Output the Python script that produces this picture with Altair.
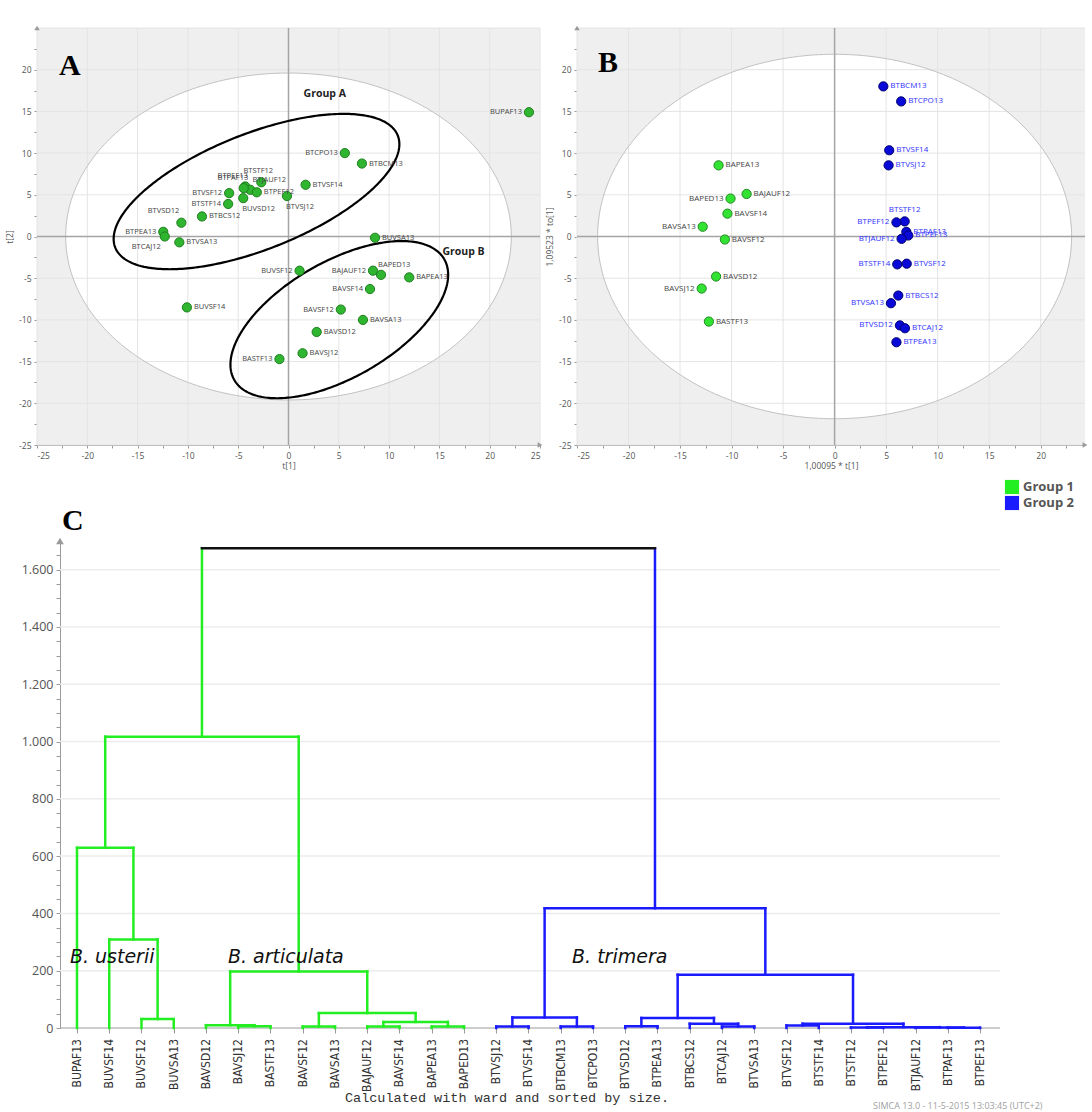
import altair as alt
import numpy as np
import pandas as pd

# ---------------- data ----------------
# Panel A: PCA scores t[1], t[2]
A_NAMES = ["BUPAF13", "BTCPO13", "BTBCM13", "BTVSF14", "BTJAUF12", "BTSTF12", "BTPAF13", "BTPEF13",
           "BTPEF12", "BUVSD12", "BTVSJ12", "BTVSF12", "BTSTF14", "BTBCS12", "BTVSD12", "BTPEA13",
           "BTCAJ12", "BTVSA13", "BUVSA13", "BUVSF12", "BAJAUF12", "BAPED13", "BAPEA13", "BAVSF14",
           "BUVSF14", "BAVSF12", "BAVSA13", "BAVSD12", "BAVSJ12", "BASTF13"]
A_T1 = [23.9, 5.6, 7.3, 1.7, -2.7, -4.3, -3.8, -4.45, -3.15, -4.5, -0.15, -5.9, -6.0, -8.6, -10.65,
        -12.45, -12.3, -10.85, 8.6, 1.1, 8.4, 9.2, 12.0, 8.1, -10.1, 5.2, 7.4, 2.8, 1.4, -0.9]
A_T2 = [14.9, 10.0, 8.75, 6.2, 6.5, 6.0, 5.6, 5.8, 5.3, 4.6, 4.85, 5.2, 3.9, 2.4, 1.65, 0.56, 0.0,
        -0.7, -0.15, -4.1, -4.1, -4.6, -4.9, -6.3, -8.5, -8.76, -10.0, -11.45, -14.0, -14.7]

# Panel B: OPLS-DA scores
B_NAMES = ["BAPEA13", "BAPED13", "BAJAUF12", "BAVSF14", "BAVSA13", "BAVSF12", "BAVSD12", "BAVSJ12",
           "BASTF13", "BTBCM13", "BTCPO13", "BTVSF14", "BTVSJ12", "BTSTF12", "BTPEF12", "BTPAF13",
           "BTPEF13", "BTJAUF12", "BTSTF14", "BTVSF12", "BTBCS12", "BTVSA13", "BTVSD12", "BTCAJ12",
           "BTPEA13"]
B_T1 = [-11.26, -10.1, -8.54, -10.4, -12.8, -10.65, -11.5, -12.9, -12.2, 4.73, 6.46, 5.3, 5.24,
        6.8, 6.0, 6.96, 7.15, 6.5, 6.08, 7.0, 6.18, 5.47, 6.34, 6.83, 6.0]
B_T2 = [8.53, 4.55, 5.1, 2.74, 1.17, -0.36, -4.8, -6.24, -10.2, 18.0, 16.2, 10.34, 8.53, 1.81, 1.69,
        0.56, 0.12, -0.28, -3.34, -3.26, -7.08, -8.0, -10.66, -11.0, -12.68]
B_GROUP = ["Group 1", "Group 1", "Group 1", "Group 1", "Group 1", "Group 1", "Group 1", "Group 1",
           "Group 1", "Group 2", "Group 2", "Group 2", "Group 2", "Group 2", "Group 2", "Group 2",
           "Group 2", "Group 2", "Group 2", "Group 2", "Group 2", "Group 2", "Group 2", "Group 2",
           "Group 2"]

# Panel C: dendrogram (Ward), leaves in plotted order
LEAVES = ["BUPAF13", "BUVSF14", "BUVSF12", "BUVSA13", "BAVSD12", "BAVSJ12", "BASTF13", "BAVSF12",
          "BAVSA13", "BAJAUF12", "BAVSF14", "BAPEA13", "BAPED13", "BTVSJ12", "BTVSF14", "BTBCM13",
          "BTCPO13", "BTVSD12", "BTPEA13", "BTBCS12", "BTCAJ12", "BTVSA13", "BTVSF12", "BTSTF14",
          "BTSTF12", "BTPEF12", "BTJAUF12", "BTPAF13", "BTPEF13"]
# (id, left child, right child, merge height, group)
MERGES = [
    ("m1", 2, 3, 31, "Group 1"),
    ("m2", 1, "m1", 309, "Group 1"),
    ("m3", 0, "m2", 629, "Group 1"),
    ("m4", 5, 6, 6, "Group 1"),
    ("m5", 4, "m4", 10, "Group 1"),
    ("m6", 7, 8, 5, "Group 1"),
    ("m7", 9, 10, 5, "Group 1"),
    ("m8", 11, 12, 5, "Group 1"),
    ("m9", "m7", "m8", 21, "Group 1"),
    ("m10", "m6", "m9", 52, "Group 1"),
    ("m11", "m5", "m10", 197, "Group 1"),
    ("m12", "m3", "m11", 1017, "Group 1"),
    ("m13", 13, 14, 5, "Group 2"),
    ("m14", 15, 16, 5, "Group 2"),
    ("m15", "m13", "m14", 37, "Group 2"),
    ("m16", 17, 18, 6, "Group 2"),
    ("m17", 20, 21, 5, "Group 2"),
    ("m18", 19, "m17", 15, "Group 2"),
    ("m19", "m16", "m18", 35, "Group 2"),
    ("m20", 22, 23, 9, "Group 2"),
    ("m21", 24, 25, 2, "Group 2"),
    ("m22", 27, 28, 1, "Group 2"),
    ("m23", 26, "m22", 2, "Group 2"),
    ("m24", "m21", "m23", 3, "Group 2"),
    ("m25", "m20", "m24", 15, "Group 2"),
    ("m26", "m19", "m25", 186, "Group 2"),
    ("m27", "m15", "m26", 418, "Group 2"),
    ("m28", "m12", "m27", 1675, "root"),
]
SPECIES = ["B. usterii", "B. articulata", "B. trimera"]
SPECIES_X = [-0.22, 4.68, 15.35]
SPECIES_Y = [248, 248, 248]
LEGEND_NAMES = ["Group 1", "Group 2"]

# -------------- style / annotation geometry ---------------
FONT = "Open Sans"
NARROW = "Liberation Sans Narrow, DejaVu Sans Condensed, Arial Narrow, Liberation Sans"
GREEN_C, BLUE_C = "#22ee22", "#1a1aff"

A_SIDE = {"BUPAF13": "left", "BTCPO13": "left", "BTBCM13": "right", "BTVSF14": "right",
          "BTJAUF12": "on", "BTSTF12": "aboveright", "BTPAF13": "upleft", "BTPEF13": "upleft2",
          "BTPEF12": "right", "BUVSD12": "belowright", "BTVSJ12": "belowright", "BTVSF12": "left",
          "BTSTF14": "left", "BTBCS12": "right", "BTVSD12": "upleft", "BTPEA13": "left",
          "BTCAJ12": "belowleft", "BTVSA13": "right", "BUVSA13": "right", "BUVSF12": "left",
          "BAJAUF12": "left", "BAPED13": "upright", "BAPEA13": "right", "BAVSF14": "left",
          "BUVSF14": "right", "BAVSF12": "left", "BAVSA13": "right", "BAVSD12": "right",
          "BAVSJ12": "right", "BASTF13": "left"}
B_SIDE = {"BAPEA13": "right", "BAPED13": "left", "BAJAUF12": "right", "BAVSF14": "right",
          "BAVSA13": "left", "BAVSF12": "right", "BAVSD12": "right", "BAVSJ12": "left",
          "BASTF13": "right", "BTBCM13": "right", "BTCPO13": "right", "BTVSF14": "right",
          "BTVSJ12": "right", "BTSTF12": "above", "BTPEF12": "left", "BTPAF13": "right",
          "BTPEF13": "right", "BTJAUF12": "left", "BTSTF14": "left", "BTVSF12": "right",
          "BTBCS12": "right", "BTVSA13": "left", "BTVSD12": "left", "BTCAJ12": "right",
          "BTPEA13": "right"}
SIDE_STYLE = {"right": ("left", 7, 0), "left": ("right", -7, 0), "above": ("center", 0, -11),
              "aboveright": ("center", 13, -15), "on": ("center", 8, -2),
              "upleft": ("right", -2, -12), "upleft2": ("right", 4, -12),
              "upright": ("left", -3, -10),
              "belowright": ("left", -1, 11), "belowleft": ("right", -4, 10)}

W_A, H_A = 503, 417
W_B, H_B = 508, 417
W_C, H_C = 963, 487
C_AX_OFF = 23          # C's y axis sits 23 px inside the panel's left edge
A_XDOM, A_YDOM = [-25, 25], [-25, 25]
B_XDOM, B_YDOM = [-25, 24.3], [-25, 25]
C_XDOM, C_YDOM = [-1.24, 28.62], [0, 1700]
LEFT, TOP = 37, 28     # position of panel A's plot area in the page
ROW1_BOTTOM = 30       # layout extent below A/B plot areas
C_TOP = 62             # layout extent above C's plot area
ROW_GAP = 96 - ROW1_BOTTOM - C_TOP + 0

one = pd.DataFrame({"a": [0]})


def anchor(x, y):
    # invisible 1px rule that fixes the layout extent of a panel
    return alt.Chart(one).mark_rule(strokeOpacity=0).encode(
        x=alt.value(x), x2=alt.value(x + 1), y=alt.value(y), y2=alt.value(y + 1))


def ellipse_fill(a, b, n=300):
    t = np.linspace(-a, a, n)
    yy = b * np.sqrt(np.clip(1 - (t / a) ** 2, 0, None))
    return pd.DataFrame({"x": t, "y": yy, "y2": -yy})


def ellipse_line(cx, cy, ux, uy, vx, vy, n=300):
    t = np.linspace(0, 2 * np.pi, n)
    return pd.DataFrame({"x": cx + ux * np.cos(t) + vx * np.sin(t),
                         "y": cy + uy * np.cos(t) + vy * np.sin(t),
                         "o": np.arange(n)})


def scatter_panel(names, t1, t2, sides, fills, strokes, labcols, w, h, xdom, ydom,
                  hot_a, hot_b, xtitle, ytitle, letter, letter_xy, extra, label_size, anchors):
    xscale = alt.Scale(domain=xdom, nice=False, zero=False)
    yscale = alt.Scale(domain=ydom, nice=False, zero=False)
    ticks_x = [float(v) for v in np.arange(-25, xdom[1] + 0.01, 2.5)]
    ticks_y = [float(v) for v in np.arange(-25, ydom[1] - 2.4, 2.5)]
    lab = "datum.value % 5 == 0 ? replace(datum.label, '\u2212', '-') : ''"
    common = dict(grid=False, tickSize=3, tickColor="#9a9a9a", domainColor="#9a9a9a",
                  labelColor="#555555", labelFont=FONT, labelFontSize=8.5, titleFont=FONT,
                  titleFontSize=8.5, titleFontWeight="normal", titleColor="#555555",
                  labelExpr=lab)
    xaxis = alt.Axis(values=ticks_x, title=xtitle, titlePadding=2, labelPadding=3, **common)
    yaxis = alt.Axis(values=ticks_y, title=ytitle, titlePadding=4, labelPadding=3, **common)

    def X(f):
        return alt.X(f, type="quantitative", scale=xscale, axis=xaxis)

    def Y(f):
        return alt.Y(f, type="quantitative", scale=yscale, axis=yaxis)

    layers = [anchor(ax, ay) for ax, ay in anchors]
    layers.append(alt.Chart(one).mark_rect(fill="#efefef").encode(
        x=alt.value(0), x2=alt.value(w), y=alt.value(0), y2=alt.value(h)))
    layers.append(alt.Chart(ellipse_fill(hot_a, hot_b)).mark_area(fill="white").encode(
        x=X("x"), y=Y("y"), y2="y2:Q"))
    gx = pd.DataFrame({"v": [float(v) for v in np.arange(-25, xdom[1] + 0.01, 5)]})
    gy = pd.DataFrame({"v": [float(v) for v in np.arange(-25, ydom[1] + 0.01, 5)]})
    layers.append(alt.Chart(gx).mark_rule(color="#e4e4e4", strokeWidth=1).encode(x=X("v")))
    layers.append(alt.Chart(gy).mark_rule(color="#e4e4e4", strokeWidth=1).encode(y=Y("v")))
    layers.append(alt.Chart(ellipse_line(0, 0, hot_a, 0, 0, hot_b)).mark_line(
        stroke="#c2c2c2", strokeWidth=1).encode(x=X("x"), y=Y("y"), order="o:Q"))
    zero = pd.DataFrame({"v": [0.0]})
    layers.append(alt.Chart(zero).mark_rule(color="#a5a5a5", strokeWidth=1.5).encode(x=X("v")))
    layers.append(alt.Chart(zero).mark_rule(color="#a5a5a5", strokeWidth=1.5).encode(y=Y("v")))
    # axis arrows
    layers.append(alt.Chart(pd.DataFrame({"x": [float(xdom[0])], "y": [float(ydom[1])]})).mark_point(
        shape="triangle-up", filled=True, color="#9a9a9a", size=30, opacity=1).encode(x=X("x"), y=Y("y")))
    layers.append(alt.Chart(pd.DataFrame({"x": [float(xdom[1])], "y": [float(ydom[0])]})).mark_point(
        shape="triangle-right", filled=True, color="#9a9a9a", size=30, opacity=1).encode(x=X("x"), y=Y("y")))
    layers += [l(X, Y) for l in extra]

    df = pd.DataFrame({"name": names, "t1": t1, "t2": t2,
                       "side": [sides[n] for n in names],
                       "fill": fills, "stroke": strokes, "lc": labcols})
    layers.append(alt.Chart(df).mark_circle(size=85, opacity=1, strokeWidth=1).encode(
        x=X("t1"), y=Y("t2"), fill=alt.Fill("fill:N", scale=None),
        stroke=alt.Stroke("stroke:N", scale=None)))
    for side, (align, dx, dy) in SIDE_STYLE.items():
        sub = df[df["side"] == side]
        if len(sub) == 0:
            continue
        layers.append(alt.Chart(sub).mark_text(
            align=align, dx=dx, dy=dy, baseline="middle", font=FONT, fontSize=label_size).encode(
            x=X("t1"), y=Y("t2"), text="name:N", color=alt.Color("lc:N", scale=None)))
    layers.append(alt.Chart(one).mark_text(
        text=letter, font="Liberation Serif", fontWeight="bold", fontSize=30, align="left",
        baseline="alphabetic", color="black").encode(x=alt.value(letter_xy[0]), y=alt.value(letter_xy[1])))
    return alt.layer(*layers).properties(width=w, height=h)


# ---- Panel A extras: group ellipses + labels ----
def a_extra_ellipses(X, Y):
    ga = ellipse_line(-3.18, 5.39, 14.04, 6.72, 2.13, -6.45)
    gb = ellipse_line(5.05, -9.97, 10.43, 7.25, 2.88, -6.02)
    ga["g"] = "A"
    gb["g"] = "B"
    return alt.Chart(pd.concat([ga, gb])).mark_line(stroke="black", strokeWidth=2.2).encode(
        x=X("x"), y=Y("y"), detail="g:N", order="o:Q")


def a_extra_text(X, Y):
    d = pd.DataFrame({"x": [3.6, 17.4], "y": [17.1, -1.8], "t": ["Group A", "Group B"]})
    return alt.Chart(d).mark_text(font=FONT, fontWeight="bold", fontSize=10.5, color="#222222",
                                  align="center", baseline="middle").encode(
        x=X("x"), y=Y("y"), text="t:N")


chartA = scatter_panel(A_NAMES, A_T1, A_T2, A_SIDE,
                       ["#2fb52f"] * len(A_NAMES), ["#1f7f1f"] * len(A_NAMES),
                       ["#444444"] * len(A_NAMES),
                       W_A, H_A, A_XDOM, A_YDOM, 22.15, 19.6, "t[1]", "t[2]", "A", (22, 47),
                       [a_extra_ellipses, a_extra_text], 7.5,
                       anchors=[(-LEFT, -TOP), (0, H_A + ROW1_BOTTOM - 1)])

b_fill = ["#33e333" if g == "Group 1" else "#0a0ad8" for g in B_GROUP]
b_stroke = ["#1f8a1f" if g == "Group 1" else "#000070" for g in B_GROUP]
b_lab = ["#444444" if g == "Group 1" else "#3030ff" for g in B_GROUP]
chartB = scatter_panel(B_NAMES, B_T1, B_T2, B_SIDE, b_fill, b_stroke, b_lab,
                       W_B, H_B, B_XDOM, B_YDOM, 23.0, 21.85, "1,00095 * t[1]", "1,09523 * to[1]",
                       "B", (21, 44), [], 8, anchors=[])

# ---------------- Panel C: dendrogram ----------------
pos = {i: float(i) for i in range(len(LEAVES))}
hgt = {i: 0.0 for i in range(len(LEAVES))}
grp = {}
segs = []
for mid, l, r, h, g in MERGES:
    for c in (l, r):
        segs.append(dict(x=pos[c], x2=pos[c], y=hgt[c], y2=float(h), g=grp.get(c, g)))
    segs.append(dict(x=pos[l], x2=pos[r], y=float(h), y2=float(h), g=g))
    pos[mid] = (pos[l] + pos[r]) / 2
    hgt[mid] = float(h)
    grp[mid] = g
seg_df = pd.DataFrame(segs)

cx_scale = alt.Scale(domain=C_XDOM, nice=False, zero=False)
cy_scale = alt.Scale(domain=C_YDOM, nice=False, zero=False)
cx_axis = alt.Axis(values=list(range(len(LEAVES))), labels=False, tickSize=5, grid=False,
                   domain=False, tickColor="#9a9a9a", title=None)
cy_axis = alt.Axis(values=list(range(0, 1651, 50)), grid=False, tickSize=4, tickColor="#9a9a9a",
                   domainColor="#9a9a9a", title=None, labelFont=FONT, labelFontSize=12.5,
                   labelColor="#555555", labelPadding=3, offset=-C_AX_OFF,
                   labelExpr="datum.value % 200 == 0 ? replace(format(datum.value, ','), ',', '.') : ''")


def CX(f):
    return alt.X(f, type="quantitative", scale=cx_scale, axis=cx_axis)


def CY(f):
    return alt.Y(f, type="quantitative", scale=cy_scale, axis=cy_axis)


c_layers = [anchor(-LEFT, -C_TOP)]
c_grid = pd.DataFrame({"v": [200.0, 400.0, 600.0, 800.0, 1000.0, 1200.0, 1400.0, 1600.0]})
c_layers.append(alt.Chart(c_grid).mark_rule(color="#ececec", strokeWidth=1.5).encode(
    y=CY("v"), x=alt.value(C_AX_OFF), x2=alt.value(W_C)))
c_layers.append(alt.Chart(pd.DataFrame({"v": [0.0]})).mark_rule(color="#9a9a9a", strokeWidth=1).encode(
    y=CY("v"), x=alt.value(C_AX_OFF), x2=alt.value(W_C)))
c_layers.append(alt.Chart(seg_df).mark_rule(strokeWidth=2.5, strokeCap="square").encode(
    x=CX("x"), x2="x2:Q", y=CY("y"), y2="y2:Q",
    color=alt.Color("g:N", scale=alt.Scale(domain=["Group 1", "Group 2", "root"],
                                           range=[GREEN_C, BLUE_C, "#111111"]), legend=None)))
c_layers.append(alt.Chart(pd.DataFrame({"y": [float(C_YDOM[1])]})).mark_point(
    shape="triangle-up", filled=True, color="#9a9a9a", size=60, opacity=1).encode(
    x=alt.value(C_AX_OFF), y=CY("y")))
leaf_df = pd.DataFrame({"i": [float(i) for i in range(len(LEAVES))], "name": LEAVES})
c_layers.append(alt.Chart(leaf_df).mark_text(
    angle=270, align="right", baseline="middle", font=NARROW, fontSize=12, color="#333333").encode(
    x=CX("i"), y=alt.value(H_C + 11), text="name:N"))
sp_df = pd.DataFrame({"x": SPECIES_X, "y": SPECIES_Y, "t": SPECIES})
c_layers.append(alt.Chart(sp_df).mark_text(
    font="DejaVu Sans", fontStyle="italic", fontSize=19, align="left", baseline="middle",
    color="#111111").encode(x=CX("x"), y=CY("y"), text="t:N"))
# legend (drawn by hand, one entry per row)
for k, (name, col) in enumerate(zip(LEGEND_NAMES, [GREEN_C, BLUE_C])):
    ly = -54 + 16 * k
    c_layers.append(alt.Chart(one).mark_square(size=200, opacity=1, color=col).encode(
        x=alt.value(975), y=alt.value(ly)))
    c_layers.append(alt.Chart(one).mark_text(
        text=name, align="left", baseline="middle", font=FONT, fontSize=13, fontWeight="bold",
        color="#555555").encode(x=alt.value(986), y=alt.value(ly)))
c_layers.append(alt.Chart(one).mark_text(
    text="C", font="Liberation Serif", fontWeight="bold", fontSize=30, align="left",
    baseline="alphabetic", color="black").encode(x=alt.value(25), y=alt.value(-11)))
c_layers.append(alt.Chart(one).mark_text(
    text="Calculated with ward and sorted by size.", font="Liberation Mono", fontSize=13.5,
    align="center", baseline="middle", color="#333333").encode(x=alt.value(470), y=alt.value(557)))
c_layers.append(alt.Chart(one).mark_text(
    text="SIMCA 13.0 - 11-5-2015 13:03:45 (UTC+2)", font=FONT, fontSize=9,
    align="left", baseline="middle", color="#a0a0a0").encode(x=alt.value(836), y=alt.value(565)))

chartC = alt.layer(*c_layers).properties(width=W_C, height=H_C)

row1 = alt.hconcat(chartA, chartB, spacing=37, bounds="flush")
chart = alt.vconcat(row1, chartC, spacing=ROW_GAP, bounds="full").properties(
    padding=0, background="white").configure_view(strokeWidth=0)

chart.save("out.html", embed_options={"renderer": "svg", "actions": False})
